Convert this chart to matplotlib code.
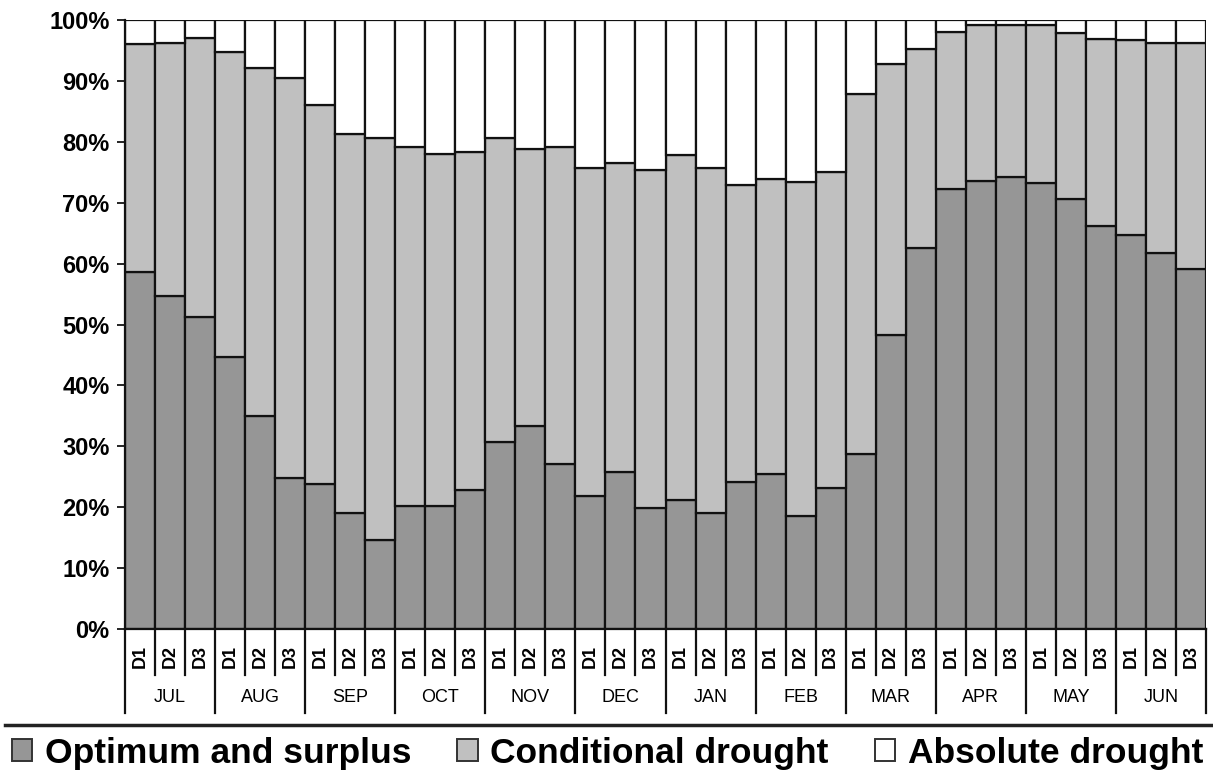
import matplotlib
matplotlib.use("Agg")
import matplotlib.pyplot as plt
from matplotlib.patches import Patch
from matplotlib.lines import Line2D
import numpy as np

plt.rcParams['font.family'] = ['Liberation Sans', 'DejaVu Sans']

months = ["JUL", "AUG", "SEP", "OCT", "NOV", "DEC", "JAN", "FEB", "MAR", "APR", "MAY", "JUN"]
decades = ["D1", "D2", "D3"]

# Optimum and surplus (%)
optimum = [58.7, 54.6, 51.3, 44.7, 34.9, 24.8, 23.8, 19.1, 14.6, 20.2, 20.2, 22.8,
           30.7, 33.3, 27.1, 21.9, 25.7, 19.8, 21.2, 19.1, 24.1, 25.5, 18.6, 23.2,
           28.8, 48.3, 62.5, 72.2, 73.5, 74.3, 73.3, 70.6, 66.2, 64.7, 61.8, 59.1]
# Cumulative top of conditional drought (%)
cond_top = [96.1, 96.3, 97.0, 94.8, 92.2, 90.5, 86.0, 81.3, 80.6, 79.2, 78.0, 78.4,
            80.6, 78.8, 79.1, 75.7, 76.5, 75.3, 77.9, 75.7, 72.9, 73.9, 73.4, 75.0,
            87.8, 92.7, 95.2, 98.1, 99.1, 99.1, 99.1, 97.8, 96.9, 96.7, 96.3, 96.3]

optimum = np.array(optimum)
conditional = np.array(cond_top) - optimum
absolute = 100 - np.array(cond_top)

series_names = ["Optimum and surplus", "Conditional drought", "Absolute drought"]
colors = ["#969696", "#c0c0c0", "#ffffff"]

W, H = 1213, 777
fig = plt.figure(figsize=(W / 100, H / 100), dpi=100)
left, right, top, bottom = 125, 1206, 20, 629
ax = fig.add_axes([left / W, 1 - bottom / H, (right - left) / W, (bottom - top) / H])

n = len(optimum)
x = np.arange(n)
ec = "#111111"
lw = 1.6
ax.bar(x, optimum, width=1.0, color=colors[0], edgecolor=ec, linewidth=lw)
ax.bar(x, conditional, width=1.0, bottom=optimum, color=colors[1], edgecolor=ec, linewidth=lw)
ax.bar(x, absolute, width=1.0, bottom=optimum + conditional, color=colors[2], edgecolor=ec, linewidth=lw)

ax.set_xlim(-0.5, n - 0.5)
ax.set_ylim(0, 100)
ax.set_yticks(np.arange(0, 101, 10))
ax.set_yticklabels([f"{v}%" for v in range(0, 101, 10)], fontsize=17, fontweight='bold')
ax.tick_params(axis='y', length=6, width=1.2, direction='out', pad=5)
ax.set_xticks([])
for s in ["top", "right"]:
    ax.spines[s].set_visible(False)
ax.spines["left"].set_linewidth(1.6)
ax.spines["bottom"].set_linewidth(1.6)
ax.spines["left"].set_color(ec)
ax.spines["bottom"].set_color(ec)

ah = bottom - top
trans = ax.get_xaxis_transform()
short_y = -(675 - bottom) / ah
long_y = -(713 - bottom) / ah
for i in range(n + 1):
    xb = i - 0.5
    yend = long_y if i % 3 == 0 else short_y
    ax.plot([xb, xb], [0, yend], transform=trans, color=ec, lw=1.6, clip_on=False)

for i in range(n):
    ax.text(i, -(656 - bottom) / ah, decades[i % 3], transform=trans, rotation=90,
            ha='center', va='center', fontsize=13, fontweight='bold')
for m, name in enumerate(months):
    ax.text(3 * m + 1, -(698 - bottom) / ah, name, transform=trans,
            ha='center', va='center', fontsize=13)

# separator line above legend
fig.add_artist(Line2D([5 / W, 1.0], [1 - 725 / H, 1 - 725 / H], color="#222222", lw=2.5))

handles = [Patch(facecolor=c, edgecolor="#333333", linewidth=1.4) for c in colors]
fig.legend(handles, series_names, loc='center', bbox_to_anchor=(0.5008, 1 - 753 / H), ncol=3,
           frameon=False, prop={'size': 25.5, 'weight': 'bold'}, handlelength=0.58, handleheight=0.58,
           handletextpad=0.35, columnspacing=1.3, borderaxespad=0)

fig.savefig("out.png", dpi=100)
